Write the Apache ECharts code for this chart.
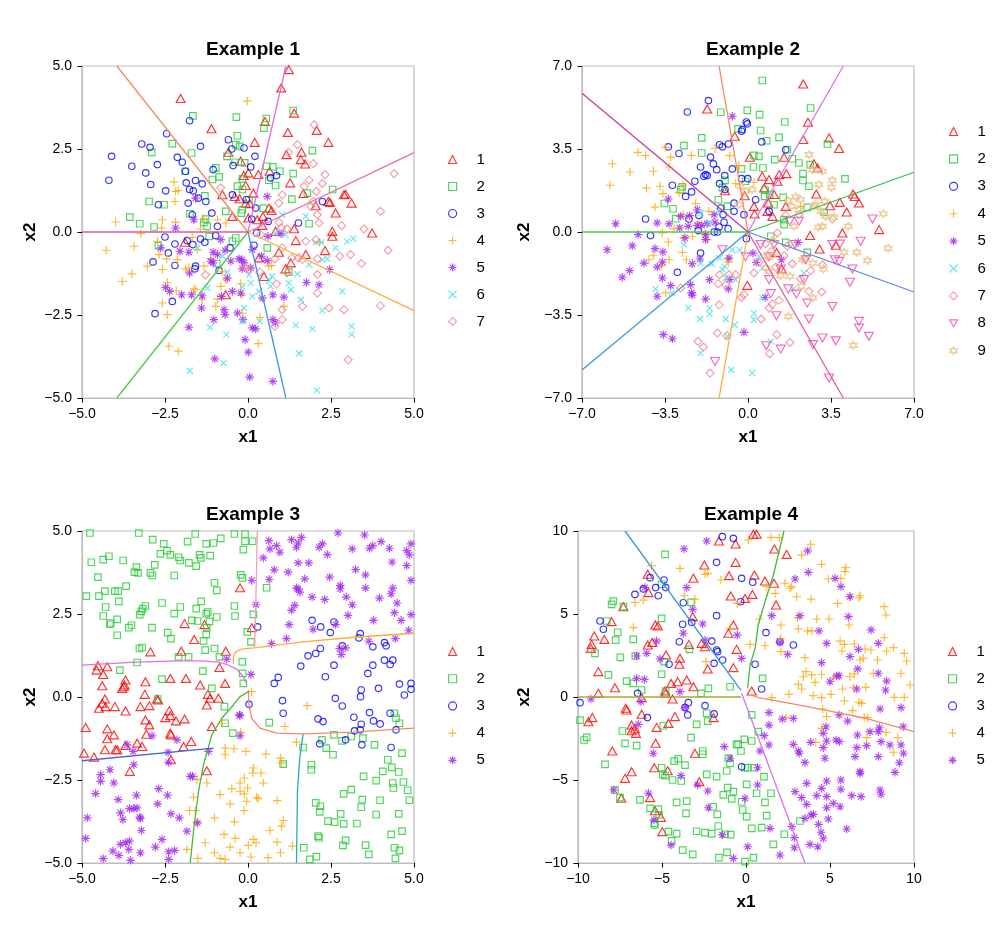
<!DOCTYPE html>
<html><head><meta charset="utf-8">
<script src="https://cdn.jsdelivr.net/npm/echarts@6/dist/echarts.min.js"></script>
<style>html,body{margin:0;padding:0;background:#fff}#c{width:1000px;height:929px}</style>
</head><body><div id="c"></div>
<script>
// ---------- Example 1 ----------
const e1_c1=[[1.23,4.89],[1.0,4.34],[-2.03,4.02],[0.51,3.33],[1.39,3.58],[-1.1,3.11],[1.2,3.0],[2.07,3.06],[0.2,2.7],[2.42,2.7],[1.61,2.4],[1.16,2.33],[1.59,2.18],[1.72,2.05],[-0.22,2.13],[-0.59,2.4],[0.31,1.73],[0.65,1.83],[0.01,1.78],[1.27,1.48],[-0.13,1.7],[-0.07,1.4],[0.16,1.17],[-0.77,1.12],[-0.25,1.0],[0.05,0.85],[0.63,0.72],[0.71,0.65],[1.67,1.16],[2.04,0.79],[2.42,0.92],[2.47,0.89],[2.89,1.12],[2.94,1.14],[3.12,0.87],[2.64,0.57],[3.74,-0.03],[2.54,0.02],[2.54,-0.13],[1.39,0.1],[1.44,-0.26],[0.83,0.02],[0.43,0.2],[0.28,0.37],[0.93,-0.61],[0.33,-0.78],[1.29,-0.93],[1.74,-0.68],[2.32,-0.56],[1.13,-1.11],[0.48,-1.34],[-1.9,-0.31],[-0.67,-1.89],[-0.47,0.47],[-0.4,1.07],[-0.07,0.87],[0.01,0.42],[0.45,0.47]];
const e1_c2=[[1.36,3.66],[-1.66,3.5],[0.55,3.42],[0.48,3.13],[-0.35,3.46],[-0.32,2.9],[-2.28,2.66],[-1.7,2.38],[-2.9,2.4],[-0.63,2.28],[-0.37,2.63],[-0.25,2.58],[-0.39,2.1],[-0.1,2.08],[1.94,2.45],[0.56,1.98],[0.96,1.83],[0.75,1.96],[1.36,1.76],[-1.9,1.83],[-0.97,1.93],[-1.07,1.58],[-0.87,1.66],[-0.17,1.6],[-0.32,1.38],[0.83,1.4],[0.63,1.56],[2.55,1.28],[1.32,0.99],[1.79,1.17],[-2.98,0.92],[-2.53,0.82],[-1.3,1.09],[0.46,0.72],[-0.17,0.67],[-1.75,0.55],[-1.33,0.29],[-1.23,0.17],[-1.28,0.39],[-3.56,0.45],[-3.26,0.25],[-2.83,0.15],[-2.7,-0.41],[-1.17,-0.13],[-0.47,-0.28],[-0.37,-0.18],[-0.94,-0.95],[0.58,-0.48],[1.23,-1.21],[1.84,0.25],[0.03,0.97],[-0.17,1.28],[-0.67,0.62],[-0.2,0.57]];
const e1_c3=[[-1.76,3.35],[-2.45,2.96],[-3.2,2.65],[-2.95,2.55],[-4.11,2.28],[-3.5,1.98],[-3.08,1.78],[-2.73,2.03],[-1.43,2.58],[-2.13,2.25],[-1.98,2.1],[-1.88,1.83],[-4.19,1.56],[-2.93,1.43],[-2.48,1.24],[-1.86,1.48],[-1.58,1.55],[-1.38,1.45],[-1.76,1.28],[-1.65,1.24],[-1.5,1.02],[-1.27,0.92],[-1.09,0.57],[-1.8,0.87],[-2.7,0.82],[-1.68,0.52],[-0.59,2.78],[-0.49,2.5],[-0.12,2.53],[-0.45,2.0],[0.21,2.28],[0.08,1.96],[-1.05,1.88],[-0.47,1.12],[-0.05,0.97],[0.23,0.72],[0.11,0.39],[0.61,0.32],[1.52,0.27],[0.68,1.63],[0.86,1.7],[2.24,0.92],[0.26,-0.03],[-0.92,0.17],[-0.97,-0.11],[-1.43,-0.21],[-1.3,-0.31],[-1.83,-0.26],[-1.66,-0.38],[-2.2,-0.36],[-2.5,-0.15],[-2.4,-0.63],[-2.86,-0.9],[-2.2,-1.01],[-1.58,-1.03],[-1.6,-1.11],[-0.87,-1.16],[-0.54,-0.48],[-2.28,-2.09],[-2.8,-2.46],[0.18,-0.4]];
const e1_c4=[[-0.02,3.94],[-2.23,1.51],[-2.18,1.22],[-2.1,1.25],[-2.2,0.92],[-3.99,0.3],[-3.23,-0.05],[-2.58,0.37],[-2.18,0.29],[-2.6,0.12],[-4.27,-0.55],[-3.43,-0.43],[-2.68,-0.68],[-3.03,-1.03],[-2.45,-0.81],[-2.13,-0.83],[-3.5,-1.26],[-3.79,-1.49],[-2.58,-1.13],[-2.43,-1.52],[-2.16,-1.77],[-1.63,-1.71],[-1.58,-1.74],[-1.38,-2.04],[-2.58,-2.14],[-2.43,-2.49],[-0.97,-2.24],[-0.92,-2.02],[-0.82,-1.64],[-1.78,-1.08],[-1.88,-1.11],[-1.33,-1.03],[-1.12,-0.81],[-1.53,-0.53],[-1.68,-0.16],[-1.43,0.09],[-2.38,-3.44],[-2.1,-3.59],[-0.22,-1.56],[-0.19,-1.9],[-0.17,-2.44],[0.36,-2.57],[0.31,-3.36],[1.08,-2.24],[0.63,-1.03],[0.71,-1.01],[2.16,-0.31],[-1.33,0.39],[-0.67,0.27],[-0.92,0.37],[-2.73,-0.28],[-0.77,-1.2],[-0.67,-1.44]];
const e1_c5=[[0.58,1.07],[-1.58,1.02],[-1.63,0.37],[-2.18,0.12],[-2.63,-0.48],[-2.05,-0.58],[-1.78,-0.61],[-1.05,-0.61],[-0.69,-0.55],[-1.12,-0.88],[-1.05,-0.93],[-0.52,-0.88],[-0.27,-0.81],[-0.19,-0.83],[-0.12,-0.93],[-0.17,-1.11],[0.08,-1.08],[0.13,-0.53],[0.58,-0.86],[1.0,-0.05],[0.6,-0.13],[-1.76,-1.24],[-2.48,-1.67],[-2.36,-1.79],[-2.0,-1.89],[-1.7,-1.89],[-1.38,-1.92],[-1.4,-2.29],[-0.62,-1.39],[-0.47,-1.79],[-0.22,-1.84],[-0.8,-1.94],[-0.72,-2.34],[-0.69,-2.49],[-0.32,-2.44],[-0.15,-2.64],[0.43,-1.99],[0.75,-1.89],[1.08,-1.96],[1.76,-1.52],[2.14,-1.59],[2.46,-1.13],[-1.03,-2.64],[-1.78,-2.87],[0.13,-2.89],[0.23,-2.92],[0.75,-2.64],[0.83,-2.74],[-0.09,-3.24],[0.01,-3.62],[-1.0,-3.82],[0.05,-4.37],[0.75,-4.5],[-0.82,-0.23],[-0.92,-0.68],[0.41,-0.73]];
const e1_c6=[[1.03,0.52],[0.83,-0.03],[1.13,-0.08],[1.74,0.47],[2.04,-0.31],[2.21,-0.31],[2.64,-0.48],[2.99,-0.28],[3.17,-0.2],[2.24,-0.83],[2.39,-0.81],[1.84,-0.98],[1.49,-1.27],[1.23,-1.54],[1.29,-1.74],[1.59,-2.04],[0.73,-1.34],[0.68,-1.64],[0.33,-1.79],[0.13,-1.94],[0.08,-1.54],[0.03,-1.29],[-0.17,-2.69],[-0.12,-2.29],[0.35,-2.69],[1.44,-2.81],[1.94,-2.92],[2.24,-2.36],[2.84,-1.79],[3.12,-2.84],[3.12,-3.09],[1.54,-3.66],[2.07,-4.77],[-0.65,-3.09],[-1.15,-2.87],[-0.74,-3.95],[-1.75,-4.18],[-1.22,-1.69],[-1.53,-0.48],[-0.77,-0.73],[-0.62,-1.21],[0.63,-1.46],[-0.17,-1.66]];
const e1_c7=[[1.99,3.23],[1.49,2.63],[1.22,2.4],[1.97,2.06],[1.84,1.56],[2.32,1.73],[2.24,1.46],[2.06,1.22],[1.69,1.38],[1.96,0.92],[1.89,0.77],[2.09,0.52],[2.14,0.27],[2.82,0.19],[3.49,0.09],[3.99,0.62],[4.4,1.76],[4.22,-0.55],[3.09,-0.68],[3.42,-0.95],[2.76,-0.73],[2.09,-0.81],[2.04,-0.23],[1.74,-0.28],[1.64,-0.83],[1.52,-0.78],[1.32,-0.78],[1.03,-0.48],[0.81,-0.81],[0.93,0.29],[1.18,0.09],[1.01,0.12],[0.38,-0.08],[0.03,-1.13],[-0.07,-1.08],[0.35,-1.21],[0.86,-1.56],[1.18,-1.23],[2.09,-1.28],[2.09,-1.84],[2.44,-2.29],[2.89,-2.34],[3.99,-2.22],[1.64,-2.24],[1.03,-2.34],[1.03,-2.64],[0.81,-2.84],[3.02,-3.85],[-1.28,-1.29],[-0.82,1.33],[1.03,1.12],[0.93,0.87]];
const e1_lines=[
 {c:'#F98766',d:[[0,0],[-3.95,5]]},{c:'#DD6FE0',d:[[0,0],[1.14,5]]},{c:'#EE6BA8',d:[[0,0],[5,2.39]]},
 {c:'#FFAD33',d:[[0,0],[5,-2.37]]},{c:'#3C99E6',d:[[0,0],[1.14,-5]]},{c:'#4CCB4C',d:[[0,0],[-3.95,-5]]},{c:'#E2559C',d:[[0,0],[-5,0]]}];

// ---------- Example 2 ----------
const e2_c1=[[2.33,6.24],[-1.72,5.19],[-0.56,4.04],[2.53,4.63],[2.33,3.9],[3.42,3.97],[3.84,3.52],[0.08,3.15],[1.52,3.15],[0.6,2.35],[1.24,2.14],[1.62,2.46],[2.78,2.88],[2.93,2.7],[1.31,2.42],[0.89,2.21],[0.68,1.86],[1.1,1.58],[-0.97,1.74],[-0.14,1.53],[0.86,1.22],[0.82,0.87],[1.59,1.08],[2.88,1.6],[3.46,1.11],[3.87,1.25],[4.43,1.6],[4.5,1.5],[4.68,1.22],[4.16,0.84],[5.53,0.1],[3.98,-0.04],[2.62,-0.15],[3.7,-0.56],[3.02,-0.72],[1.21,-0.86],[1.42,-1.56],[-0.03,-2.25],[0.28,0.76],[1.03,0.66],[0.25,1.08]];
const e2_c2=[[0.6,6.39],[2.64,5.23],[-0.03,5.13],[-1.15,5.05],[0.49,4.95],[1.55,4.64],[0.53,4.28],[-0.42,4.35],[1.31,3.99],[0.79,3.85],[-1.95,3.97],[-2.7,3.64],[-1.95,3.33],[3.35,3.71],[1.66,3.47],[1.87,3.09],[1.13,3.05],[0.25,3.23],[0.46,3.19],[0.23,2.74],[0.63,2.7],[2.15,2.91],[2.62,2.84],[2.32,2.46],[2.32,2.17],[2.57,1.93],[4.09,2.24],[-0.27,2.66],[-0.1,2.14],[-0.97,2.18],[-1.08,1.87],[0.72,1.76],[0.91,1.58],[0.7,1.5],[1.1,1.15],[1.48,1.46],[3.21,0.83],[2.5,1.04],[1.52,0.52],[1.52,0.31],[0.96,-0.18],[1.59,-0.44],[2.5,-0.86],[-0.87,1.08],[-2.77,1.9],[-3.16,0.98],[-3.53,1.2],[-3.05,0.56],[-2.84,1.79],[-1.25,1.36]];
const e2_c3=[[-1.67,5.54],[-2.56,5.06],[-0.07,4.64],[-0.03,4.56],[-0.24,4.32],[-0.27,4.25],[0.58,3.8],[1.59,3.47],[-3.36,3.59],[-2.91,3.31],[-1.2,3.68],[-0.83,3.71],[-1.08,3.59],[-1.58,3.16],[-1.46,2.87],[-1.32,2.63],[-2.0,2.74],[-1.79,2.42],[-1.72,2.38],[-1.86,2.35],[-2.24,2.14],[-2.38,1.69],[-2.63,1.5],[-3.19,1.97],[-0.66,2.66],[-0.98,2.38],[-0.27,2.25],[-0.01,2.25],[-1.2,2.04],[-0.97,1.79],[-0.59,1.22],[-0.59,0.87],[-1.15,1.01],[-1.05,0.73],[-1.01,0.41],[-0.84,0.14],[-1.22,0.21],[-1.43,0],[-1.29,0],[-0.17,0.73],[0.89,0.87],[-2.07,0.7],[-2.49,0.55],[-2.1,0.06],[-4.32,0.55],[-4.11,-0.15],[-2.0,-0.89],[-2.98,-1.7],[-0.07,-0.28],[0.32,1.36]];
const e2_c4=[[-4.64,3.36],[-4.32,3.22],[-5.72,2.88],[-4.98,2.53],[-3.99,2.56],[-5.82,1.97],[-4.28,1.86],[-3.71,1.93],[-3.59,1.62],[-3.92,1.05],[-3.47,3.57],[-3.26,3.16],[-3.33,2.74],[-2.39,3.23],[-2.74,1.97],[-2.91,1.65],[-1.39,3.52],[-0.77,3.22],[-0.38,2.8],[-0.52,2.04],[0.25,2.1],[2.22,1.08],[-2.21,1.2],[-1.65,0.87],[-2.74,0.73],[-3.12,0.13],[-3.61,-0.04],[-3.36,-0.42],[-2.35,-0.18],[-1.81,-0.07],[-1.72,-0.32],[-2.7,-0.25],[-3.99,-0.98],[-4.18,-1.17],[-3.64,-1.42],[-3.33,-1.17],[-2.6,-1.17],[-2.77,-0.86],[-3.47,-2.57],[-0.83,-1.28],[-0.87,-1.14],[-2.07,0.38]];
const e2_c5=[[-0.66,4.88],[-3.36,1.39],[-5.58,0.35],[-5.94,-0.75],[-4.63,-0.11],[-4.88,-0.58],[-3.92,-0.7],[-3.59,-0.84],[-3.61,-1.27],[-4.39,-1.31],[-3.83,-1.48],[-4.99,-1.63],[-5.3,-1.91],[-3.61,-1.94],[-3.83,-2.71],[-3.26,-2.26],[-2.42,-2.22],[-2.38,-2.57],[-2.35,-2.66],[-1.79,-2.83],[-2.35,-1.34],[-2.03,-1.14],[-1.62,-2.01],[-3.83,0.38],[-3.33,0.34],[-2.88,0.17],[-2.84,0.66],[-2.46,0.69],[-2.52,0.24],[-2.14,0.94],[-2.14,0.28],[-1.95,0.28],[-1.79,-0.11],[-1.72,0.35],[-1.39,0.41],[-1.79,-0.32],[-2.66,-0.25],[-0.8,-1.1],[-0.83,-2.4],[-0.77,-2.01],[0.21,-0.89],[0.35,-1.28],[1.41,-1.17],[2.11,-0.44],[0.72,-2.76],[-0.17,-4.23],[-3.57,-4.33],[-3.19,-4.5],[-1.43,0.73]];
const e2_c6=[[-2.0,0.8],[-1.65,0.38],[-1.22,0.87],[-2.7,-0.53],[-2.0,-1.31],[-1.53,-1.34],[-1.2,-1.1],[-1.08,-1.59],[-0.94,-1.94],[-0.52,-2.01],[-0.97,-1.45],[-0.66,-0.75],[-0.35,-0.75],[-3.9,-2.4],[-3.22,-2.57],[-2.52,-3.21],[-1.62,-3.21],[-1.62,-3.45],[-2.03,-3.67],[-0.94,-3.67],[-0.56,-3.91],[-0.87,-4.4],[0.25,-3.42],[0.25,-3.7],[0.6,-2.78],[0.96,-4.61],[-2.0,-5.11],[-0.7,-5.81],[0.18,-5.95],[2.36,-1.73],[1.91,-2.4],[0.6,-1.52],[0.46,-1.03]];
const e2_c7=[[1.59,0.69],[2.15,0.73],[3.56,0.55],[1.24,-0.04],[0.75,-0.49],[1.66,-0.6],[0.98,-0.82],[0.46,-1.28],[0.25,-1.73],[1.17,-1.48],[1.87,-1.34],[2.4,-1.14],[2.64,-1.63],[3.14,-1.38],[2.22,-1.98],[2.57,-2.5],[3.11,-2.53],[1.31,-2.88],[0.89,-3.21],[1.03,-3.04],[0.56,-3.67],[1.21,-4.33],[1.77,-4.66],[0.91,-5.13],[-0.17,-2.64],[-0.28,-2.76],[-1.22,-3.07],[-1.25,-2.18],[-0.94,-2.22],[-0.8,-1.8],[-0.52,-1.8],[-1.2,-1.8],[-2.84,-2.36],[-1.29,-4.26],[-2.11,-4.61],[-1.88,-4.85],[-0.89,-4.37],[-1.6,-5.95],[1.52,-1.0]];
const e2_c8=[[1.76,0.45],[4.75,-0.39],[3.88,-0.51],[3.56,-0.53],[3.67,-1.17],[3.84,-1.24],[4.4,-1.56],[4.3,-2.12],[5.25,0.55],[3.56,-3.14],[4.68,-3.77],[4.68,-4.05],[5.1,-4.4],[3.7,-4.59],[3.14,-4.47],[2.74,-4.75],[3.42,-6.16],[0.77,-4.8],[1.38,-4.94],[-1.39,-5.46],[2.57,-3.67],[2.5,-3.0],[2.36,-2.01],[0.89,-2.01],[0.96,-2.6],[1.7,-2.4],[2.04,-2.62],[1.2,-3.53],[2.43,-1.17],[1.98,-0.53],[1.38,-1.56],[-1.08,-0.75],[0.53,-0.53],[0.89,-1.05],[1.1,-0.53],[-0.1,-1.05],[2.15,0.45]];
const e2_c9=[[2.57,3.26],[2.71,2.63],[3.14,2.56],[3.56,2.18],[3.52,1.88],[2.99,2.0],[3.23,1.29],[2.85,1.15],[2.01,1.48],[1.7,1.32],[1.84,1.08],[2.22,1.36],[2.15,0.94],[2.78,1.08],[3.07,0.87],[3.28,0.66],[3.63,0.62],[4.23,0.24],[3.14,0.24],[2.97,0.2],[5.71,0.77],[5.91,-0.68],[5.04,-1.2],[4.59,-0.86],[4.05,-0.86],[3.18,-1.56],[2.74,-1.31],[2.29,-1.17],[1.03,-0.35],[0.82,-1.03],[0.75,-1.52],[0.89,-1.66],[1.38,-1.84],[1.77,-1.87],[2.25,-2.29],[2.74,-2.78],[1.7,-3.56],[4.44,-4.78],[-0.31,1.93],[-0.1,1.72],[-0.38,1.15],[0.18,1.79],[1.94,0.24],[1.03,-1.0]];
const e2_lines=[
 {c:'#F98766',d:[[0,0],[-1.22,7]]},{c:'#DA72EC',d:[[0,0],[4.02,7]]},{c:'#36BB55',d:[[0,0],[7,2.52]]},
 {c:'#5A86DF',d:[[0,0],[7,-2.53]]},{c:'#E8559C',d:[[0,0],[4.02,-7]]},{c:'#FFAD33',d:[[0,0],[-1.22,-7]]},
 {c:'#3C99E6',d:[[0,0],[-7,-5.82]]},{c:'#4CCB4C',d:[[0,0],[-7,0]]},{c:'#CC3A9A',d:[[0,0],[-7,5.85]]}];

// ---------- Example 3 ----------
const e3_c1=[[-0.24,3.29],[0.11,2.09],[-1.91,2.21],[-1.31,2.18],[-1.62,1.73],[-2.94,1.36],[-2.01,1.38],[-0.67,1.38],[-0.86,0.89],[-4.52,0.94],[-4.24,0.91],[-4.56,0.81],[-4.36,0.68],[-4.39,0.34],[-3.69,0.51],[-3.72,0.36],[-3.74,0.31],[-3.79,0.26],[-3.09,0.46],[-2.34,0.56],[-1.87,0.56],[-1.44,0.36],[-0.69,0.41],[-3.11,0.08],[-2.71,-0.09],[-4.31,-0.06],[-4.39,-0.19],[-4.49,-0.34],[-4.01,-0.29],[-3.69,-0.42],[-3.24,-0.29],[-2.97,-0.26],[-2.74,-0.06],[-2.37,-0.41],[-2.49,-0.62],[-2.34,-0.56],[-2.17,-0.72],[-1.91,-0.66],[-1.21,0.08],[-1.24,-0.24],[-1.14,-0.04],[-0.89,-0.04],[-1.09,-0.89],[-4.89,-0.92],[-4.24,-0.96],[-4.04,-1.14],[-4.24,-1.26],[-3.09,-0.69],[-2.97,-0.84],[-3.06,-1.12],[-2.34,-1.09],[-2.32,-1.14],[-1.71,-1.34],[-1.94,-1.49],[-3.69,-1.46],[-3.34,-1.39],[-4.31,-1.59],[-3.99,-1.59],[-3.94,-1.59],[-3.19,-1.49],[-4.64,-1.81],[-4.94,-1.69],[-2.32,-1.89],[-3.56,-2.24],[-1.24,-2.22],[-4.29,-0.29]];
const e3_c2=[[-4.76,4.94],[-3.29,4.94],[-1.59,4.91],[-2.87,4.74],[-2.54,4.61],[-1.82,4.68],[-1.26,4.61],[-1.04,4.64],[-0.82,4.78],[-0.41,4.91],[-0.09,4.91],[-0.09,4.69],[0.14,4.69],[-0.14,4.44],[-2.64,4.31],[-2.44,4.41],[-2.34,4.28],[-2.09,4.21],[-2.04,4.11],[-1.78,4.04],[-1.46,4.28],[-1.42,4.19],[-1.14,4.26],[-1.56,3.94],[-4.19,4.24],[-4.36,4.14],[-4.72,4.06],[-3.76,4.11],[-2.81,3.98],[-3.36,3.91],[-3.42,3.76],[-3.31,3.74],[-2.94,3.74],[-2.88,3.66],[-2.22,3.66],[-4.52,3.61],[-3.67,3.34],[-4.31,3.19],[-4.01,3.19],[-3.91,3.19],[-4.49,3.04],[-4.87,3.04],[-3.89,2.88],[-4.29,2.71],[-3.09,2.74],[-3.17,2.66],[-3.21,2.58],[-3.26,2.48],[-2.59,2.83],[-2.04,2.71],[-2.22,2.51],[-1.56,2.66],[-1.41,2.88],[-1.26,2.51],[-1.21,2.56],[-0.94,2.41],[-4.36,2.44],[-3.94,2.34],[-4.14,2.23],[-4.16,2.19],[-3.59,2.09],[-3.51,2.16],[-2.89,2.09],[-3.94,1.86],[-2.42,1.94],[-2.32,1.76],[-1.69,2.31],[-1.52,2.29],[-1.16,2.28],[-1.24,2.09],[-1.26,1.88],[-1.34,1.69],[-1.01,1.46],[-1.29,1.41],[-3.27,1.46],[-3.19,1.49],[-2.09,1.21],[-1.79,1.21],[-0.86,1.21],[-3.34,1.04],[-3.86,0.81],[-2.59,0.54],[-1.36,0.78],[-1.01,3.44],[-0.94,3.21],[-0.22,3.68],[-0.17,3.59],[0.56,3.29],[-0.41,2.74],[-0.39,2.44],[0.16,2.49],[-0.02,1.96],[0.09,1.66],[-0.17,1.06],[-1.09,0.26],[-2.72,-0.06],[-0.71,-0.29],
 [-0.69,-0.79],[-0.46,-1.09],[-0.14,0.41],[-0.16,0.71],[0.64,-0.77],[1.06,-2.02],[1.66,-1.52],[1.91,-2.04],[1.91,-2.19],[2.23,-1.29],[2.36,-1.54],[2.56,-1.74],[2.59,-1.14],[2.83,-1.32],[3.11,-1.19],[3.46,-1.24],[3.81,-1.44],[4.21,-1.89],[4.33,-2.12],[4.41,-0.49],[4.46,-0.64],[4.56,-0.79],[4.64,-1.69],[4.54,-2.26],[4.06,-2.24],[3.48,-2.39],[3.86,-2.52],[4.36,-2.59],[4.68,-2.56],[4.38,-2.74],[4.81,-2.81],[4.86,-3.11],[3.11,-2.79],[2.88,-2.92],[3.44,-3.09],[3.98,-3.11],[2.04,-3.19],[2.18,-3.29],[2.16,-3.46],[2.79,-3.52],[3.41,-3.32],[3.86,-3.54],[4.54,-3.52],[2.41,-3.74],[2.61,-3.77],[2.88,-3.82],[3.28,-3.81],[4.31,-4.14],[4.64,-4.04],[2.11,-4.19],[2.14,-4.24],[2.94,-4.32],[2.86,-4.47],[3.54,-4.46],[4.41,-4.54],[4.56,-4.62],[3.64,-4.74],[4.44,-4.86],[1.68,-4.54],[2.06,-4.81],[1.86,-4.89]];
const e3_c3=[[0.29,2.11],[1.93,2.31],[2.19,2.11],[2.59,2.26],[2.48,1.94],[3.38,1.91],[3.34,1.78],[2.84,1.54],[4.11,1.64],[4.16,1.54],[3.76,1.51],[2.18,1.46],[2.04,1.31],[1.81,1.24],[1.59,0.93],[2.59,0.96],[3.76,0.96],[4.11,1.11],[4.36,1.11],[4.28,0.98],[3.61,0.71],[2.33,0.61],[0.91,0.59],[0.79,0.41],[4.56,0.39],[4.91,0.41],[4.91,0.23],[4.71,0.06],[3.93,0.26],[3.41,0.21],[3.39,0.01],[2.63,-0.04],[2.84,-0.27],[1.04,-0.11],[1.06,-0.49],[0.03,-0.22],[2.11,-0.66],[2.26,-0.74],[3.19,-0.61],[3.66,-0.47],[3.41,-0.82],[3.78,-0.72],[3.98,-0.81],[4.28,-0.49],[3.21,-1.02],[3.38,-0.99],[2.94,-1.29],[3.43,-1.44],[4.46,-0.99],[2.16,-1.41],[4.31,-1.52]];
const e3_c4=[[0.11,0.16],[1.78,-0.26],[1.11,-0.89],[-0.79,-0.79],[-0.22,-1.06],[1.46,-1.36],[-0.69,-1.54],[-0.42,-1.56],[-0.06,-1.64],[-0.69,-1.74],[0.54,-1.72],[0.98,-1.84],[1.01,-1.99],[0.16,-2.14],[0.14,-2.29],[0.39,-2.29],[-0.11,-2.44],[-0.24,-2.59],[-0.49,-2.76],[-0.01,-2.74],[0.46,-2.59],[-1.54,-2.49],[-1.24,-2.59],[-0.84,-2.94],[-0.11,-2.92],[-0.24,-2.84],[-1.64,-3.02],[0.26,-3.02],[0.31,-3.06],[0.88,-3.12],[-0.54,-3.22],[-0.04,-3.14],[-0.12,-3.42],[-1.76,-3.42],[-1.59,-3.42],[-1.01,-3.64],[-0.41,-3.76],[1.06,-3.72],[1.01,-3.89],[0.66,-4.02],[-1.54,-3.77],[-0.72,-4.14],[-0.39,-4.26],[0.16,-4.29],[0.24,-4.39],[0.88,-4.37],[1.34,-4.49],[-1.29,-4.39],[-0.54,-4.52],[0.01,-4.47],[-1.01,-4.69],[-1.84,-4.59],[0.98,-4.69],[0.09,-4.82],[-1.51,-4.86],[-0.84,-4.86],[-0.69,-4.89],[0.61,-4.84],[-0.24,-4.69]];
const e3_c5=[[0.63,4.71],[0.66,4.46],[0.86,4.56],[0.96,4.36],[0.46,4.19],[1.31,4.74],[1.51,4.64],[1.61,4.81],[1.46,4.51],[2.14,4.51],[2.24,4.61],[2.39,4.29],[2.71,4.94],[3.14,4.46],[3.51,4.88],[3.76,4.56],[3.66,4.48],[4.01,4.68],[4.26,4.48],[4.78,4.41],[4.86,4.28],[4.91,4.61],[1.51,4.04],[1.83,4.04],[0.79,3.83],[1.21,3.76],[0.64,3.54],[0.11,3.51],[1.71,3.56],[1.46,3.28],[1.56,3.16],[1.51,3.26],[2.46,3.61],[2.78,3.36],[2.78,3.26],[3.24,3.84],[3.54,3.68],[3.54,3.28],[4.34,4.06],[4.78,3.96],[4.91,3.51],[4.36,3.28],[4.31,3.11],[3.96,2.98],[2.96,3.01],[2.31,2.94],[1.93,3.01],[1.41,2.76],[1.31,2.61],[0.24,2.78],[3.14,2.78],[4.49,2.83],[4.41,2.54],[4.91,2.48],[4.61,2.31],[3.78,2.31],[3.01,2.46],[2.64,2.18],[1.96,2.04],[1.24,2.18],[1.16,1.76],[0.71,1.61],[3.64,1.68],[4.44,1.76],[4.84,2.01],[2.76,1.46],[2.94,1.48],[2.81,1.28],[0.09,0.68],[-0.64,1.14],
 [-0.24,-0.56],[-0.24,-1.17],[-2.14,-1.29],[-2.89,-1.17],[-3.64,-1.44],[-3.46,-1.64],[-1.19,-1.64],[-2.41,-1.67],[-2.39,-1.97],[-3.44,-2.04],[-4.16,-2.19],[-4.44,-2.34],[-4.44,-2.54],[-4.04,-2.59],[-1.67,-2.39],[-2.69,-2.76],[-4.59,-2.91],[-3.91,-3.09],[-3.36,-2.96],[-2.42,-2.96],[-2.72,-3.22],[-3.57,-3.36],[-3.44,-3.36],[-3.34,-3.34],[-3.84,-3.49],[-2.32,-3.52],[-3.77,-3.69],[-3.26,-3.62],[-3.24,-3.66],[-2.07,-3.64],[-1.52,-3.79],[-4.84,-3.64],[-3.21,-4.02],[-1.84,-4.04],[-4.89,-4.26],[-2.59,-4.29],[-3.69,-4.39],[-3.57,-4.34],[-3.84,-4.44],[-3.59,-4.59],[-2.79,-4.52],[-2.39,-4.66],[-2.21,-4.62],[-4.07,-4.64],[-3.89,-4.77],[-3.24,-4.69],[-4.36,-4.87],[-3.54,-4.92],[-2.39,-4.89],[-0.26,-0.54],[-1.74,-2.39]];
const e3_lines=[
 {c:'#F2A0AE',d:[[0.28,5],[0.25,3.5],[0.22,2.2],[0.2,1.5]]},
 {c:'#FFAA33',d:[[-0.44,1.0],[-0.44,1.2],[-0.38,1.35],[-0.2,1.44],[0.26,1.49],[1.66,1.66],[3.2,1.8],[5,1.92]]},
 {c:'#DC73DE',d:[[-5,0.96],[-3.5,1.04],[-2.2,1.09],[-1.44,1.09],[-0.9,1.05],[-0.64,0.98],[-0.34,0.84],[-0.14,0.61],[-0.04,0.41]]},
 {c:'#F98766',d:[[0.01,0.21],[0.03,-0.24],[0.11,-0.64],[0.36,-0.94],[0.86,-1.09],[1.66,-1.11],[3.16,-1.06],[5,-0.94]]},
 {c:'#45BB33',d:[[0.01,0.16],[-0.24,0.01],[-0.44,-0.24],[-0.79,-0.64],[-1.09,-1.14],[-1.34,-2.04],[-1.49,-2.84],[-1.62,-3.84],[-1.74,-5]]},
 {c:'#4466DD',d:[[-5,-1.92],[-1.04,-1.54]]},
 {c:'#24AACB',d:[[1.66,-1.12],[1.56,-1.84],[1.49,-2.84],[1.46,-5]]}];

// ---------- Example 4 ----------
const e4_c1=[[0.63,9.8],[0.44,9.8],[-1.61,9.4],[-0.62,9.22],[1.69,8.92],[2.42,8.59],[-2.48,7.95],[-0.62,8.11],[-1.01,7.31],[0.5,7.35],[1.13,6.99],[1.67,6.85],[-3.13,7.15],[-5.85,7.39],[-5.81,6.29],[-0.91,6.08],[-0.06,5.94],[0.38,6.18],[1.79,5.54],[-7.3,5.44],[-8.0,4.54],[-3.17,4.84],[-5.4,4.34],[-5.24,4.28],[-0.75,4.34],[-1.05,3.84],[-9.03,3.67],[-8.43,3.47],[-9.19,3.17],[-9.23,2.93],[-5.58,3.29],[-5.85,3.13],[-3.4,3.17],[-2.64,3.23],[-2.44,3.03],[-4.76,2.53],[-3.93,2.33],[-3.97,1.97],[-0.56,2.87],[-0.75,1.77],[-2.28,1.69],[-8.79,1.53],[-7.8,0.56],[-8.79,0.22],[-4.46,0.82],[-4.07,0.92],[-3.53,1.02],[-3.13,0.62],[-4.82,0.36],[-4.78,0.22],[-4.37,-0.12],[-6.21,-0.04],[-7.16,-0.68],[-7.1,-0.78],[-6.21,-1.04],[-9.15,-1.24],[-9.38,-1.49],[-6.81,-1.69],[-6.61,-1.93],[-6.81,-2.03],[-6.55,-2.19],[-5.32,-1.83],[-4.62,-1.59],[-4.23,-1.18],[-1.94,-1.24],[-5.38,-2.79],[-7.96,-3.25],[-3.04,-3.39],[-6.81,-4.5],[-7.2,-4.9],[-2.78,-5.1],[-5.46,-4.26],[-4.66,-4.44],[-7.42,-6.1],[-5.71,-6.06],[-5.42,-6.85],[-5.06,-7.25],[-4.98,-8.11],[0.34,0.36]];
const e4_c2=[[-4.82,8.59],[-5.02,6.79],[-3.27,5.7],[-7.9,5.78],[-8.0,5.58],[-7.3,5.44],[-5.02,4.74],[-8.29,4.58],[-7.64,3.9],[-7.76,3.43],[-6.71,3.47],[-3.37,2.87],[-8.99,2.63],[-7.48,2.39],[-6.59,2.47],[-4.86,2.13],[-8.19,1.33],[-7.1,0.96],[-6.71,0.82],[-6.21,0.42],[-5.02,1.37],[-4.78,0.36],[-2.24,0.52],[-2.68,0.22],[-0.95,0.62],[0.99,1.12],[0.34,-1.08],[-2.34,-0.98],[-2.28,-1.45],[-2.94,-1.65],[-4.92,-1.73],[-9.88,-1.39],[-9.64,-2.59],[-9.48,-2.43],[-7.36,-2.05],[-7.2,-2.79],[-6.51,-2.93],[-3.27,-2.45],[-2.58,-3.25],[-2.58,-3.45],[0.73,-2.09],[-0.1,-2.55],[0.34,-2.65],[-0.56,-2.85],[-0.46,-2.85],[-0.3,-3.25],[-1.05,-3.69],[-0.95,-3.99],[-1.15,-4.46],[-8.39,-4.06],[-5.02,-4.26],[-4.96,-4.66],[-4.82,-4.74],[-4.37,-5.0],[-3.85,-5.06],[-4.27,-3.86],[-4.03,-3.73],[-3.63,-4.1],[-2.34,-4.66],[-1.75,-4.8],[-0.06,-4.26],[0.1,-4.26],[0.5,-4.26],[1.07,-4.8],[0.04,-5.26],[0.63,-5.8],[1.49,-5.8],[-7.8,-5.6],[-7.5,-6.06],[-6.31,-6.2],[-5.71,-6.71],[-5.22,-6.75],[-5.18,-7.1],[-5.46,-7.61],[-5.42,-7.71],[-4.13,-6.35],[-3.53,-6.27],[-3.57,-7.01],[-1.96,-6.61],[-1.71,-7.07],[-1.09,-5.46],[-1.35,-5.9],[-0.75,-5.7],[-0.85,-6.14],[-0.26,-6.31],[-0.2,-6.81],[0.04,-7.21],[1.13,-6.35],[1.23,-7.15],[-1.65,-7.77],[-1.25,-8.27],[-0.91,-8.29],[-2.94,-8.09],[-2.44,-8.17],[-2.04,-8.23],[-4.13,-8.23],[-4.62,-8.11],[-4.43,-8.67],[-3.77,-9.22],[-3.17,-9.48],[-1.61,-9.68],[-1.13,-9.36],[-0.06,-9.92],[0.44,-9.68],[0.34,-7.91],[0.93,-7.87],[1.63,-8.88],[2.28,-8.27],[3.21,-7.47]];
const e4_c3=[[-1.41,9.66],[-0.75,9.56],[-1.75,8.11],[-0.26,7.15],[0.4,6.91],[-5.71,7.19],[-4.88,7.05],[-5.38,6.59],[-4.78,6.59],[-5.22,6.1],[-6.61,6.18],[-6.11,6.51],[-0.32,5.74],[-3.73,5.68],[-1.75,4.9],[-3.77,4.38],[-3.23,4.5],[-8.69,4.58],[-8.49,4.08],[-3.97,3.33],[-2.04,3.37],[-1.75,2.83],[-1.69,2.73],[-1.39,2.23],[-1.9,2.03],[-4.58,1.97],[1.19,3.88],[2.02,3.33],[2.82,3.13],[0.54,1.97],[0.93,0.48],[-6.45,0.22],[-9.88,-0.34],[-3.43,-0.34],[-3.63,-0.64],[-3.47,-1.08],[-2.44,-0.52],[-1.9,-1.02],[-5.87,-1.24],[-0.26,-4.2]];
const e4_c4=[[0.14,9.46],[1.49,9.62],[1.98,9.6],[3.85,9.2],[3.31,8.55],[-5.62,7.91],[-3.93,7.75],[-2.44,7.39],[-2.28,7.45],[-1.49,7.05],[1.23,6.65],[1.73,6.24],[2.32,6.85],[2.62,6.55],[2.72,6.65],[3.02,6.04],[4.5,7.99],[4.9,7.11],[5.93,7.79],[5.89,7.55],[5.65,7.15],[3.87,5.9],[-6.61,5.7],[-3.67,6.1],[-3.04,5.9],[-0.52,5.64],[0.79,4.7],[2.08,4.34],[3.07,4.78],[3.67,3.98],[4.21,4.7],[4.94,4.7],[5.46,5.64],[6.19,6.04],[6.73,5.98],[6.79,6.1],[8.23,5.44],[8.33,4.94],[6.13,4.34],[3.91,3.98],[3.12,4.1],[-6.71,4.18],[0.24,3.17],[1.13,3.09],[2.06,3.53],[2.08,2.73],[5.6,3.37],[5.85,3.17],[6.45,3.19],[5.71,2.77],[7.08,2.89],[6.79,2.23],[6.98,2.33],[7.44,2.83],[7.82,2.23],[8.37,2.77],[8.77,2.97],[8.23,3.57],[9.42,2.63],[9.56,2.17],[3.51,2.37],[3.57,1.53],[3.41,1.22],[3.91,1.33],[4.11,0.88],[4.5,1.37],[5.2,1.16],[6.19,1.22],[6.45,1.39],[7.58,1.43],[9.23,1.43],[9.76,0.72],[7.12,0.58],[6.39,0.56],[5.75,0.48],[5.06,0.16],[4.0,0.08],[4.5,-0.04],[3.12,0.76],[3.31,0.48],[2.56,0.16],[1.53,-0.04],[5.85,-0.24],[6.73,-0.32],[6.88,-0.38],[8.83,-0.02],[9.42,-0.02],[4.56,-0.72],[4.8,-1.18],[6.35,-0.82],[7.04,-1.22],[7.24,-1.24],[8.33,-2.13],[9.03,-2.45],[7.2,-2.45],[8.77,-3.33],[4.15,-2.73],[4.5,-1.89],[2.38,-1.24],[-6.11,5.84],[-2.38,2.13],[-0.95,4.14]];
const e4_c5=[[-2.34,9.4],[-3.69,8.92],[3.67,8.8],[2.92,7.11],[3.71,7.51],[5.3,7.15],[5.65,6.65],[6.19,6.04],[-3.53,6.59],[-6.01,6.59],[1.53,4.9],[3.21,4.9],[6.09,4.84],[4.35,3.98],[7.44,4.04],[-3.17,5.28],[-2.58,4.4],[-0.52,3.73],[-3.73,3.84],[-5.32,3.37],[-5.91,2.63],[-6.51,2.47],[-2.44,3.43],[2.02,3.29],[2.48,2.57],[4.8,3.23],[7.88,3.23],[6.69,2.87],[6.19,2.43],[6.65,1.69],[4.5,2.07],[-0.26,2.33],[-5.12,2.29],[-6.51,1.12],[-6.05,1.06],[5.4,1.27],[5.54,1.28],[7.88,1.43],[8.37,0.96],[8.31,0.42],[6.59,0.48],[5.0,0.92],[-9.23,-0.12],[-6.25,-0.28],[-3.63,-0.64],[-6.41,-1.65],[1.37,-0.94],[1.37,-1.69],[2.16,-1.33],[2.82,-1.29],[7.98,-0.72],[9.23,-0.64],[5.54,-1.08],[6.05,-1.45],[4.76,-1.79],[4.6,-2.19],[4.8,-2.65],[3.85,-2.73],[5.36,-2.59],[5.56,-2.69],[6.63,-2.29],[7.38,-2.09],[7.88,-2.09],[7.94,-1.85],[8.04,-2.69],[8.57,-2.89],[9.23,-2.89],[9.36,-1.79],[9.37,-3.39],[9.13,-3.96],[8.87,-4.54],[7.18,-2.93],[6.59,-3.05],[7.88,-3.59],[1.09,-2.33],[1.37,-2.89],[0.83,-3.25],[2.82,-2.85],[3.12,-3.25],[3.17,-3.39],[3.51,-3.94],[4.6,-3.05],[4.7,-3.69],[6.49,-3.59],[6.79,-4.5],[6.79,-4.6],[7.98,-5.6],[8.04,-5.86],[6.29,-5.94],[6.85,-6.0],[5.65,-5.0],[5.65,-5.56],[4.8,-5.06],[4.21,-5.94],[4.5,-5.5],[3.61,-5.2],[3.61,-6.47],[2.92,-5.7],[3.31,-6.06],[4.01,-7.07],[3.87,-7.11],[4.8,-6.67],[5.2,-6.41],[5.6,-6.61],[4.8,-6.0],[4.31,-7.67],[4.47,-8.15],[4.6,-8.51],[5.99,-7.95],[4.9,-7.35],[3.51,-7.31],[3.81,-8.88],[4.27,-9.02],[2.72,-7.81],[2.88,-8.47],[2.88,-9.08],[1.43,-7.91],[2.02,-9.52],[0.1,-9.02],[-0.75,-9.72],[-0.06,-6.1],[-1.41,-8.31],[-4.46,-8.92],[-5.48,-7.41],[-5.81,-5.8],[-7.86,-5.6],[-5.52,-3.39],[-3.87,-4.74],[-2.88,-5.3],[-2.28,-5.66],[-2.24,-6.67],[0.69,-5.3],[0.69,-4.26],[-1.29,-2.99],[-0.95,-3.69],[-3.93,0.32]];
const e4_lines=[
 {c:'#3A97DD',d:[[-7.2,10],[-0.3,0.4]]},
 {c:'#45BB33',d:[[0.1,0.52],[0.24,1.93],[0.54,2.93],[0.73,4.34],[1.13,5.74],[1.63,7.35],[2.26,10]]},
 {c:'#A9A930',d:[[-10,0],[-0.3,0]]},
 {c:'#F98766',d:[[0.3,0.12],[0.73,-0.04],[3.11,-0.48],[5.0,-0.85],[7.08,-1.28],[10,-2.09]]},
 {c:'#DA72EC',d:[[-0.26,0.22],[3.51,-10]]}];

// tick label decimals per panel
const tickDec=[1,1,1,0];

// ---------- styles ----------
const COLORS=['#FF0000','#22CC33','#0000FF','#FFA500','#A020F0','#3FE0EE','#F08494','#F545A8','#EBC285'];
const SYM=[
 {s:'triangle',z:[9,8]},
 {s:'rect',z:6.5},
 {s:'circle',z:6.5},
 {s:'path://M0,5H10M5,0V10',z:8.5},
 {s:'path://M0,5H10M5,0V10M1.5,1.5L8.5,8.5M1.5,8.5L8.5,1.5',z:8.5},
 {s:'path://M0,0L10,10M0,10L10,0',z:6},
 {s:'diamond',z:8},
 {s:'path://M0,0L10,0L5,8.66Z',z:[9,8]},
 {s:'path://M5,0L10,7.5L0,7.5ZM0,2.5L10,2.5L5,10Z',z:8}];
const FONT='Liberation Sans, Arial, Helvetica, sans-serif';

const panels=[
 {cls:[e1_c1,e1_c2,e1_c3,e1_c4,e1_c5,e1_c6,e1_c7],lines:e1_lines,min:-5,max:5,step:2.5},
 {cls:[e2_c1,e2_c2,e2_c3,e2_c4,e2_c5,e2_c6,e2_c7,e2_c8,e2_c9],lines:e2_lines,min:-7,max:7,step:3.5},
 {cls:[e3_c1,e3_c2,e3_c3,e3_c4,e3_c5],lines:e3_lines,min:-5,max:5,step:2.5},
 {cls:[e4_c1,e4_c2,e4_c3,e4_c4,e4_c5],lines:e4_lines,min:-10,max:10,step:5}];
const layout=[
 {l:82,t:66,w:332,h:332,yGap:43,lgL:443,lgT:147,lgGap:12},
 {l:582,t:66,w:332,h:332,yGap:49,lgL:944,lgT:119,lgGap:12.4},
 {l:82,t:531,w:332,h:332,yGap:43,lgL:443,lgT:639,lgGap:12.2},
 {l:578,t:531,w:336,h:332,yGap:45,lgL:943,lgT:639,lgGap:12.2}];

const grids=[],xAxes=[],yAxes=[],series=[],legends=[],titles=[];
function fmt(dec){return v=>{const s=Math.abs(v).toFixed(dec);return (v<-1e-9?'\u2212':'')+s;};}
panels.forEach((p,i)=>{
 const L=layout[i];
 grids.push({left:L.l,top:L.t,width:L.w,height:L.h,show:true,borderColor:'#BDBDBD',borderWidth:1.2,backgroundColor:'transparent'});
 const ax=(isX)=>({gridIndex:i,type:'value',min:p.min,max:p.max,interval:p.step,
   name:isX?'x1':'x2',nameLocation:'middle',nameGap:isX?31:L.yGap,
   nameTextStyle:{fontSize:17,fontWeight:'bold',color:'#000',fontFamily:FONT},
   axisLine:{show:true,onZero:false,lineStyle:{color:'#BDBDBD',width:1.2}},
   axisTick:{show:true,length:4.5,lineStyle:{color:'#000',width:1}},
   axisLabel:{color:'#000',fontSize:14,fontFamily:FONT,margin:isX?9:10,formatter:fmt(tickDec[i])},
   splitLine:{show:false}});
 xAxes.push(ax(true)); yAxes.push(ax(false));
 titles.push({text:'Example '+(i+1),left:L.l+L.w/2,top:L.t-31,textAlign:'center',
   textStyle:{fontSize:19,fontWeight:'bold',color:'#000',fontFamily:FONT}});
 const names=[];
 p.cls.forEach((d,k)=>{
  const nm='P'+i+'-'+(k+1); names.push(nm);
  series.push({type:'scatter',name:nm,xAxisIndex:i,yAxisIndex:i,data:d,symbol:SYM[k].s,symbolSize:SYM[k].z,
   itemStyle:{color:'rgba(255,255,255,0)',borderColor:COLORS[k],borderWidth:1.15},
   emphasis:{disabled:true},silent:true,z:2,clip:true});
 });
 p.lines.forEach(ln=>{
  series.push({type:'line',xAxisIndex:i,yAxisIndex:i,data:ln.d,showSymbol:false,symbol:'none',
   lineStyle:{color:ln.c,width:1.3},silent:true,z:3,clip:true});
 });
 legends.push({data:names,orient:'vertical',left:L.lgL,top:L.lgT,itemWidth:8,itemHeight:8,itemGap:L.lgGap,
   selectedMode:false,formatter:n=>n.split('-')[1],
   textStyle:{fontSize:15,lineHeight:15,color:'#000',fontFamily:FONT,padding:[0,0,0,15]},
   itemStyle:{borderWidth:1.15}});
});

const chart=echarts.init(document.getElementById('c'),null,{renderer:'canvas'});
chart.setOption({animation:false,backgroundColor:'#fff',title:titles,grid:grids,xAxis:xAxes,yAxis:yAxes,legend:legends,series:series});
</script></body></html>
